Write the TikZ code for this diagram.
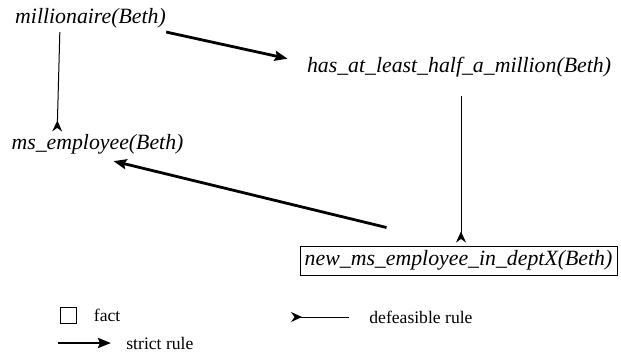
\documentclass[tikz,border=0pt]{standalone}
\usepackage{fontspec}
\setmainfont{Liberation Serif}
\newfontfamily\litfont{Liberation Serif}
\usetikzlibrary{arrows.meta, positioning, calc}

\begin{document}
\begin{tikzpicture}[x=0.5pt, y=-0.5pt,
    lit/.style={inner sep=2pt, font=\litfont\fontsize{10.9}{13}\selectfont\itshape},
    fct/.style={lit, draw, line width=0.5pt, minimum width=158.5pt, minimum height=14.5pt},
    strict/.style={-{Stealth[length=6.5pt, width=5pt, inset=1pt]}, line width=1.4pt},
    defeas/.style={-{Stealth[length=5.5pt, width=5pt, inset=1.8pt, reversed]}, line width=0.5pt},
    lgd/.style={inner sep=0pt, font=\litfont\fontsize{8.8}{10}\selectfont}
]
\useasboundingbox (0,0) rectangle (621,354);

\node[lit, anchor=base] (mill) at (90.5,23) {millionaire(Beth)};
\node[lit, anchor=base] (has) at (459,72) {has\_at\_least\_half\_a\_million(Beth)};
\node[lit, anchor=base] (ms) at (97.5,149) {ms\_employee(Beth)};
\node[fct] (box) at (458.5,260.5) {new\_ms\_employee\_in\_deptX(Beth)};

\draw[strict] ($(mill.south east)+(-4,0)$) -- ($(has.west)+(-15,-8)$);
\draw[defeas] ($(mill.south west)+(49,0)$) -- ($(ms.north west)+(50,2)$);
\draw[defeas] ($(has.south)+(2,15)$) -- ($(box.north)+(2.5,-3)$);
\draw[strict] ($(box.north west)+(87,-18)$) -- ($(ms.south)+(16,3)$);

% legend
\node[draw, line width=0.5pt, minimum size=8pt, inner sep=0pt] (factbox) at (68,315) {};
\node[lgd, right=8.5pt of factbox] (factlbl) {fact};
\coordinate (dstart) at (291,317);
\coordinate (dend) at (349,317);
\draw[defeas] (dend) -- (dstart);
\node[lgd, right=10pt of dend] (deflbl) {defeasible rule};
\coordinate (sstart) at (58,343);
\coordinate (send) at (111,343);
\draw[strict] (sstart) -- (send);
\node[lgd, right=7.5pt of send] (strlbl) {strict rule};
\end{tikzpicture}
\end{document}
